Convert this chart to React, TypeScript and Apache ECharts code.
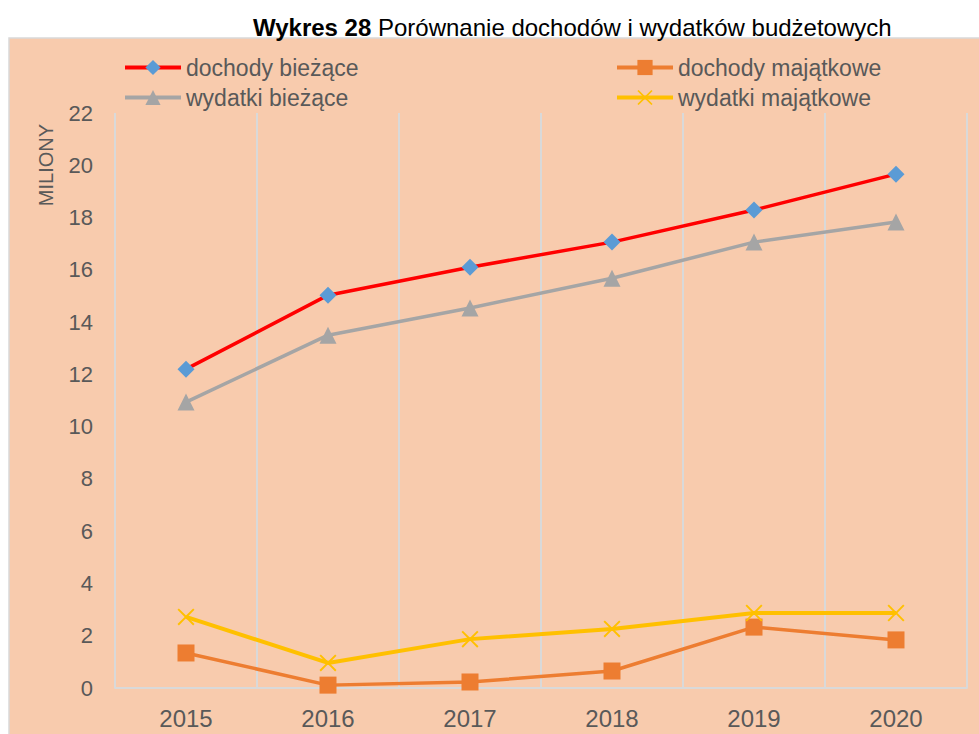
import React, { useEffect, useRef } from "react";
import * as echarts from "echarts";

const categories = ["2015", "2016", "2017", "2018", "2019", "2020"];
const dochodyBiezace = [12.2, 15.03, 16.1, 17.06, 18.29, 19.66];
const wydatkiBiezace = [10.94, 13.5, 14.54, 15.68, 17.06, 17.83];
const dochodyMajatkowe = [1.34, 0.11, 0.23, 0.65, 2.33, 1.84];
const wydatkiMajatkowe = [2.72, 0.96, 1.87, 2.26, 2.87, 2.87];
const seriesNames = ["dochody bieżące", "wydatki bieżące", "dochody majątkowe", "wydatki majątkowe"];

const crossPath =
  "path://M0,1.6 L1.6,0 L10,8.4 L18.4,0 L20,1.6 L11.6,10 L20,18.4 L18.4,20 L10,11.6 L1.6,20 L0,18.4 L8.4,10 Z";

export default function App() {
  const ref = useRef<HTMLDivElement>(null);
  useEffect(() => {
    if (!ref.current) return;
    const chart = echarts.init(ref.current, undefined, { renderer: "svg" });
    const font = "Liberation Sans, Arial, sans-serif";
    const legendCommon = {
      orient: "vertical",
      top: 51,
      itemWidth: 56,
      itemHeight: 19,
      itemGap: 7,
      lineStyle: { width: 4 },
      textStyle: { fontFamily: font, fontSize: 23, color: "#595959" },
    };
    chart.setOption({
      animation: false,
      backgroundColor: "#ffffff",
      textStyle: { fontFamily: font },
      graphic: [
        {
          type: "rect",
          z: -10,
          silent: true,
          shape: { x: 9, y: 38, width: 980, height: 710 },
          style: { fill: "#F8CBAD", stroke: "#D9D9D9", lineWidth: 1.5 },
        },
        {
          type: "text",
          x: 46,
          y: 165,
          rotation: Math.PI / 2,
          style: {
            text: "MILIONY",
            fill: "#595959",
            font: `20px ${font}`,
            textAlign: "center",
            textVerticalAlign: "middle",
          },
        },
      ],
      title: {
        text: "{b|Wykres 28} Porównanie dochodów i wydatków budżetowych",
        left: 248,
        top: 10,
        textStyle: {
          fontFamily: font,
          fontSize: 24,
          fontWeight: "normal",
          color: "#000000",
          rich: {
            b: { fontFamily: font, fontSize: 24, fontWeight: "bold", color: "#000000" },
          },
        },
      },
      legend: [
        { ...legendCommon, data: [seriesNames[0], seriesNames[1]], left: 118 },
        { ...legendCommon, data: [seriesNames[2], seriesNames[3]], left: 610 },
      ],
      grid: { left: 115, right: 12, top: 113, bottom: 46 },
      xAxis: {
        type: "category",
        data: categories,
        boundaryGap: true,
        axisLine: { show: true, lineStyle: { color: "#D9D9D9", width: 2 } },
        axisTick: { show: false },
        splitLine: { show: true, lineStyle: { color: "#D9D9D9", width: 2 } },
        axisLabel: { color: "#595959", fontSize: 24, margin: 18, fontFamily: font },
      },
      yAxis: {
        type: "value",
        min: 0,
        max: 22,
        interval: 2,
        axisLine: { show: false },
        axisTick: { show: false },
        splitLine: { show: false },
        axisLabel: { color: "#595959", fontSize: 22, margin: 22, fontFamily: font },
      },
      series: [
        {
          name: seriesNames[0],
          type: "line",
          data: dochodyBiezace,
          symbol: "diamond",
          symbolSize: 17,
          lineStyle: { color: "#FF0000", width: 3.5 },
          itemStyle: { color: "#5B9BD5" },
        },
        {
          name: seriesNames[1],
          type: "line",
          data: wydatkiBiezace,
          symbol: "triangle",
          symbolSize: 17,
          lineStyle: { color: "#A5A5A5", width: 3.5 },
          itemStyle: { color: "#A5A5A5" },
        },
        {
          name: seriesNames[2],
          type: "line",
          data: dochodyMajatkowe,
          symbol: "rect",
          symbolSize: 17,
          lineStyle: { color: "#ED7D31", width: 3.5 },
          itemStyle: { color: "#ED7D31" },
        },
        {
          name: seriesNames[3],
          type: "line",
          data: wydatkiMajatkowe,
          symbol: crossPath,
          symbolSize: 17,
          lineStyle: { color: "#FFC000", width: 4 },
          itemStyle: { color: "#FFC000" },
        },
      ],
    });
    return () => chart.dispose();
  }, []);
  return (
    <div
      ref={ref}
      style={{ position: "fixed", left: 0, top: 0, width: 979, height: 734 }}
    />
  );
}
